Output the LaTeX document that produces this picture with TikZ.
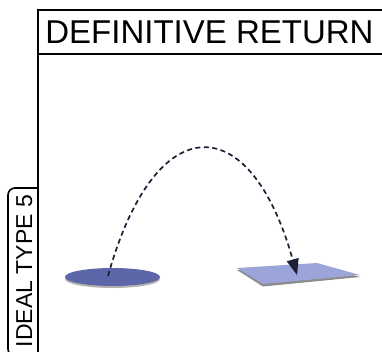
\documentclass[tikz,border=0pt]{standalone}
\usepackage{fontspec}
\setmainfont{Liberation Sans}
\usetikzlibrary{arrows.meta,shapes.geometric}

\definecolor{discblue}{HTML}{5D66A8}
\definecolor{planeblue}{HTML}{9CA5D9}
\definecolor{arcink}{HTML}{1B2038}

\tikzset{
  frameline/.style={line width=1.6pt, black},
  jumparc/.style={arcink, line width=1.7pt, dash pattern=on 5pt off 3.5pt,
    -{Triangle[length=16pt,width=12pt]}},
}

\begin{document}
\begin{tikzpicture}[x=1pt,y=-1pt]
\useasboundingbox (0,0) rectangle (382,352);
\clip (0,0) rectangle (382,352);
% frame and header
\draw[frameline] (38,10) rectangle (400,400);
\draw[frameline] (38,54) -- (400,54);
\node[anchor=base, inner sep=0pt, font=\fontsize{33}{40}\selectfont] (title) at (209.5,43.5) {DEFINITIVE RETURN};
% side tab
\draw[frameline, rounded corners=7pt] (38,188) -- (8,188) -- (8,356) -- (38,356);
\node[anchor=base, rotate=90, inner sep=0pt, font=\fontsize{23}{28}\selectfont] (tab) at (32,271) {IDEAL TYPE 5};
% disc with shadow
\fill[black!30] (112.5,279) ellipse (47.5 and 9);
\node[ellipse, fill=discblue, minimum width=95pt, minimum height=18pt, inner sep=0pt] (disc) at (112.5,277) {};
% plane with shadow
\fill[black!45] (237,270) -- (317,265) -- (360,277) -- (263,286.5) -- cycle;
\fill[planeblue] (237,268) -- (317,263) -- (360,275) -- (263,284) -- cycle;
% jump
\coordinate (start) at (108,276);
\coordinate (finish) at (297,275);
\draw[jumparc] (start) .. controls (155,107) and (250,107) .. (finish);
\end{tikzpicture}
\end{document}
